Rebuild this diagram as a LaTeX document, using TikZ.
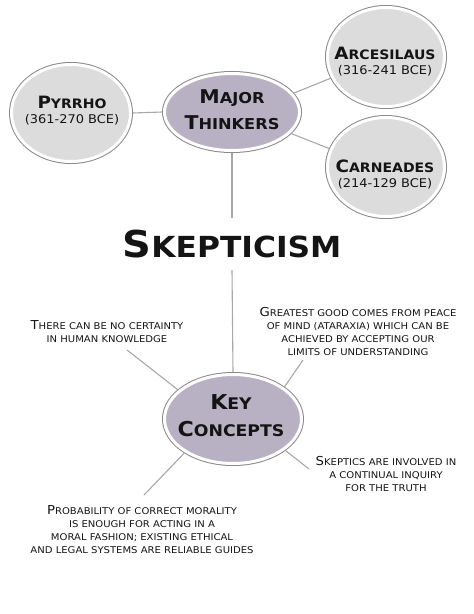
\documentclass[tikz,border=0pt]{standalone}
\usepackage{fontspec}
\setmainfont{DejaVu Sans}[FakeStretch=1.08]
\usetikzlibrary{shapes.geometric}
\definecolor{purp}{HTML}{B8B1C3}
\definecolor{lgrey}{HTML}{DCDCDC}
\definecolor{edgec}{HTML}{8A8A8A}
\definecolor{linec}{HTML}{A8A8A8}
\definecolor{ink}{HTML}{141414}
\newcommand\Ini[2]{{\fontsize{#1}{#1}\selectfont #2}}
\tikzset{
  bubble/.style={ellipse, inner sep=0pt, outer sep=2.5pt,
    preaction={draw=edgec, line width=5pt}, draw=white, line width=3pt},
  conn/.style={draw=linec, line width=1.1pt},
  hd/.style={font=\bfseries\fontsize{15}{26}\selectfont, align=center, text=ink, inner sep=0pt},
  nm/.style={font=\fontsize{12}{15}\selectfont, align=center, text=ink, inner sep=0pt},
  body/.style={font=\fontsize{9.3}{13}\selectfont, align=center, text=ink, inner sep=0pt},
}
\begin{document}
\begin{tikzpicture}[x=1pt,y=-1pt]
\fill[white] (0,0) rectangle (474,614);
\useasboundingbox (0,0) rectangle (474,614);
% bubbles
\node[bubble, fill=purp, minimum width=135pt, minimum height=77pt] (MT) at (232,112) {};
\node[bubble, fill=lgrey, minimum width=119pt, minimum height=97pt] (P) at (71,113) {};
\node[bubble, fill=lgrey, minimum width=117pt, minimum height=99pt] (A) at (386,57) {};
\node[bubble, fill=lgrey, minimum width=117pt, minimum height=99pt] (C) at (386,167) {};
\node[bubble, fill=purp, minimum width=137pt, minimum height=89pt] (KC) at (233,419) {};
% bubble texts
\node[hd] (MTt) at (232,110) {\Ini{19}{M}AJOR\\\Ini{19}{T}HINKERS};
\node[hd, font=\bfseries\fontsize{16}{27}\selectfont] (KCt) at (231,416) {\Ini{20.5}{K}EY\\\Ini{20.5}{C}ONCEPTS};
\node[nm] (Pt) at (72,111) {{\bfseries\fontsize{13}{15}\selectfont\Ini{17}{P}YRRHO}\\(361-270 BCE)};
\node[nm] (At) at (385,62) {{\bfseries\fontsize{13}{15}\selectfont\Ini{17}{A}RCESILAUS}\\(316-241 BCE)};
\node[nm] (Ct) at (385,174) {{\bfseries\fontsize{13}{15}\selectfont\Ini{17}{C}ARNEADES}\\(214-129 BCE)};
% title
\node[font=\bfseries\fontsize{29}{30}\selectfont, text=ink, inner sep=0pt, minimum height=52pt] (SK) at (232,244) {\Ini{37}{S}KEPTICISM};
% concept texts
\node[body] (T1) at (107,332) {\Ini{12.3}{T}HERE CAN BE NO CERTAINTY\\IN HUMAN KNOWLEDGE};
\node[body] (T2) at (358,331) {\Ini{12.3}{G}REATEST GOOD COMES FROM PEACE\\OF MIND (ATARAXIA) WHICH CAN BE\\ACHIEVED BY ACCEPTING OUR\\LIMITS OF UNDERSTANDING};
\node[body] (T3) at (386,474) {\Ini{12.3}{S}KEPTICS ARE INVOLVED IN\\A CONTINUAL INQUIRY\\FOR THE TRUTH};
\node[body] (T4) at (142,530) {\Ini{12.3}{P}ROBABILITY OF CORRECT MORALITY\\IS ENOUGH FOR ACTING IN A\\MORAL FASHION; EXISTING ETHICAL\\AND LEGAL SYSTEMS ARE RELIABLE GUIDES};
% free ends
\coordinate (e1) at (127,350);
\coordinate (e2) at (303,360);
\coordinate (e3) at (309,469);
\coordinate (e4) at (144,495);
% connectors
\draw[conn] (P.east) -- (MT.west);
\draw[conn] (MT.17) -- (A.201);
\draw[conn] (MT.-20) -- (C.162);
\draw[conn] (MT.south) -- (SK.north);
\draw[conn] (SK.south) -- (KC.north);
\draw[conn] (e1) -- (KC.152);
\draw[conn] (e2) -- (KC.32);
\draw[conn] (KC.-31) -- (e3);
\draw[conn] (KC.215) -- (e4);
\end{tikzpicture}
\end{document}
